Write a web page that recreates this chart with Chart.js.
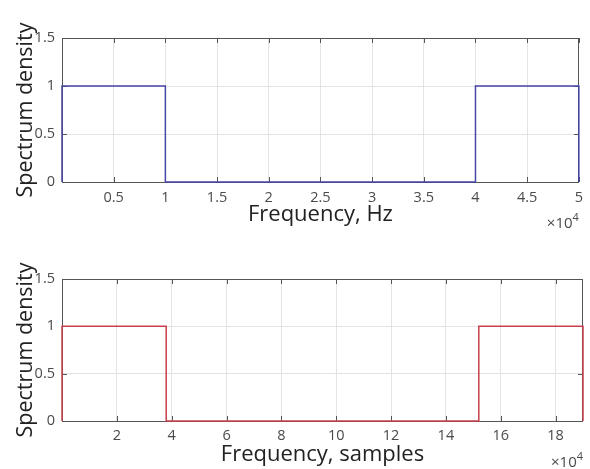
<!DOCTYPE html>
<html>
<head>
<meta charset="utf-8">
<script src="https://cdn.jsdelivr.net/npm/chart.js@4.4.1/dist/chart.umd.min.js"></script>
<style>
  html, body { margin: 0; padding: 0; background: #fff; }
  #wrap { position: relative; width: 590px; height: 469px; overflow: hidden; }
  .box { position: absolute; left: 0; width: 590px; }
</style>
</head>
<body>
<div id="wrap">
  <div class="box" style="top:0;height:235px"><canvas id="c1"></canvas></div>
  <div class="box" style="top:235px;height:234px"><canvas id="c2"></canvas></div>
</div>
<script>
// ---- data ----
const topFreqHz = [0, 0, 10000, 10000, 40000, 40000, 50000, 50000];
const topDensity = [0, 1, 1, 0, 0, 1, 1, 0];
const bottomFreqSamples = [0, 0, 38000, 38000, 152000, 152000, 190000, 190000];
const bottomDensity = [0, 1, 1, 0, 0, 1, 1, 0];
const topXTicks = [5000, 10000, 15000, 20000, 25000, 30000, 35000, 40000, 45000, 50000];
const bottomXTicks = [20000, 40000, 60000, 80000, 100000, 120000, 140000, 160000, 180000];
const yTicks = [0, 0.5, 1, 1.5];
const yTitle = 'Spectrum density';
const topXTitle = 'Frequency, Hz';
const bottomXTitle = 'Frequency, samples';

const FONT = "'Open Sans', 'Noto Sans', sans-serif";
const GRID = '#e3e3e3';
const AXIS = '#555555';
const LABEL = '#4a4a4a';

const boxPlugin = {
  id: 'box',
  beforeDatasetsDraw(chart) {
    const {ctx, chartArea: a, scales} = chart;
    ctx.save();
    ctx.strokeStyle = AXIS;
    ctx.lineWidth = 1;
    ctx.strokeRect(Math.round(a.left) + 0.5, Math.round(a.top) + 0.5,
                   Math.round(a.right - a.left) - 1, Math.round(a.bottom - a.top));
    // inward ticks
    const L = 5;
    ctx.beginPath();
    scales.x.ticks.forEach(t => {
      const px = Math.round(scales.x.getPixelForValue(t.value)) + 0.5;
      ctx.moveTo(px, a.bottom); ctx.lineTo(px, a.bottom - L);
      ctx.moveTo(px, a.top); ctx.lineTo(px, a.top + L);
    });
    scales.y.ticks.forEach(t => {
      const py = Math.round(scales.y.getPixelForValue(t.value)) + 0.5;
      ctx.moveTo(a.left, py); ctx.lineTo(a.left + L, py);
      ctx.moveTo(a.right, py); ctx.lineTo(a.right - L, py);
    });
    ctx.stroke();
    // exponent label
    const opt = chart.options.plugins.box;
    ctx.fillStyle = LABEL;
    ctx.textBaseline = 'alphabetic';
    ctx.textAlign = 'right';
    ctx.font = '11px ' + FONT;
    const rx = a.right;
    ctx.fillText('4', rx, opt.expY - 7);
    const w4 = ctx.measureText('4').width;
    ctx.font = '15px ' + FONT;
    ctx.fillText('\u00d710', rx - w4, opt.expY);
    ctx.restore();
  }
};

function makeChart(id, xs, ys, color, xTicks, xMax, xTitle, cfg) {
  const pts = xs.map((x, i) => ({x: x, y: ys[i]}));
  return new Chart(document.getElementById(id), {
    type: 'line',
    data: { datasets: [{ data: pts, borderColor: color, borderWidth: 1.5,
      pointRadius: 0, fill: false, tension: 0, clip: 2 }] },
    options: {
      responsive: true, maintainAspectRatio: false, animation: false,
      layout: { padding: { top: cfg.top, right: 7, left: 0, bottom: 0 } },
      plugins: { legend: { display: false }, tooltip: { enabled: false },
        box: { expY: cfg.expY } },
      scales: {
        x: {
          type: 'linear', min: 0, max: xMax,
          afterBuildTicks: s => { s.ticks = xTicks.map(v => ({value: v})); },
          afterFit: s => { s.height = cfg.xh; },
          grid: { color: GRID, drawTicks: false },
          border: { display: false },
          ticks: { color: LABEL, font: { family: FONT, size: 14.5 }, padding: cfg.xpad,
            maxRotation: 0, autoSkip: false,
            callback: v => String(v / 10000) },
          title: { display: true, text: xTitle, color: '#222',
            font: { family: FONT, size: 22 }, padding: { top: 0, bottom: cfg.tpad } }
        },
        y: {
          type: 'linear', min: 0, max: 1.5,
          afterBuildTicks: s => { s.ticks = yTicks.map(v => ({value: v})); },
          afterFit: s => { s.width = 62; },
          grid: { color: GRID, drawTicks: false },
          border: { display: false },
          ticks: { color: LABEL, font: { family: FONT, size: 14.5 }, padding: 7,
            callback: v => String(v) },
          title: { display: true, text: yTitle, color: '#222',
            font: { family: FONT, size: 21.5 }, padding: { top: 13, bottom: 0 } }
        }
      }
    },
    plugins: [boxPlugin]
  });
}

makeChart('c1', topFreqHz, topDensity, '#4646a6', topXTicks, 50000, topXTitle,
  { top: 38, xh: 53, xpad: 7, tpad: 7, expY: 228 });
makeChart('c2', bottomFreqSamples, bottomDensity, '#c8404c', bottomXTicks, 190000, bottomXTitle,
  { top: 44, xh: 48, xpad: 6, tpad: 1, expY: 232 });
</script>
</body>
</html>
